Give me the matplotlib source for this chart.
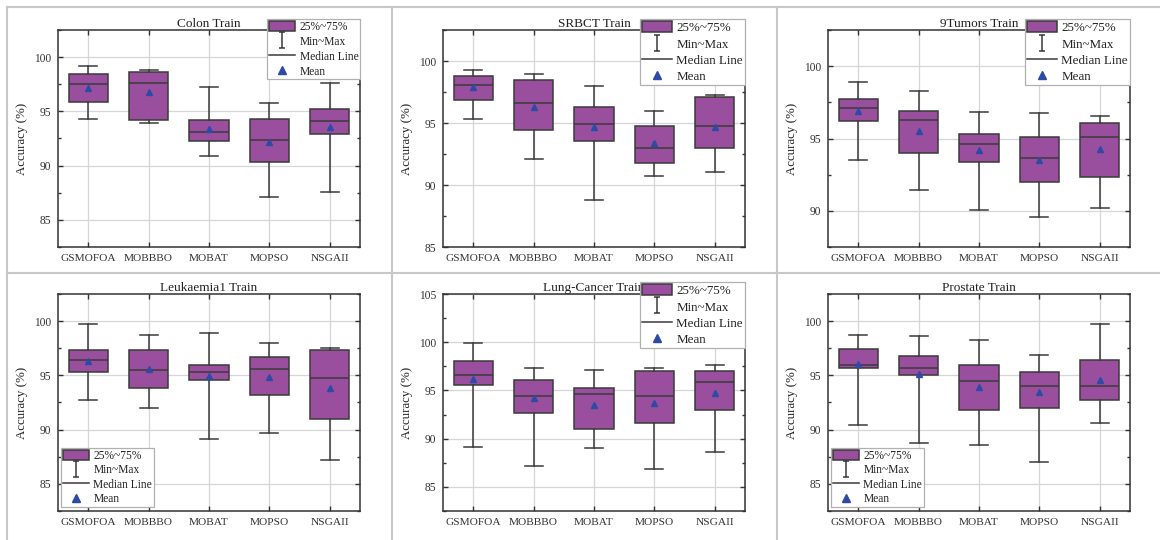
import matplotlib
matplotlib.use('Agg')
import matplotlib.pyplot as plt
from matplotlib.path import Path
from matplotlib.patches import Patch
from matplotlib.lines import Line2D
from matplotlib.ticker import MultipleLocator

plt.rcParams['font.family'] = ['Liberation Serif', 'DejaVu Serif']

algorithms = ['GSMOFOA', 'MOBBBO', 'MOBAT', 'MOPSO', 'NSGAII']

# each row: min, q1, median, q3, max, mean
colon = [
    [94.34, 95.82, 97.51, 98.46, 99.14, 97.20],
    [93.94, 94.25, 97.60, 98.65, 98.83, 96.77],
    [90.89, 92.25, 93.14, 94.18, 97.26, 93.35],
    [87.14, 90.37, 92.34, 94.28, 95.75, 92.22],
    [87.57, 92.92, 94.15, 95.20, 97.57, 93.60],
]
srbct = [
    [95.34, 96.84, 98.07, 98.79, 99.30, 97.94],
    [92.09, 94.42, 96.65, 98.47, 98.95, 96.33],
    [88.82, 93.57, 94.91, 96.33, 97.99, 94.64],
    [90.70, 91.80, 92.98, 94.75, 95.95, 93.35],
    [91.07, 92.95, 94.75, 97.08, 97.29, 94.69],
]
tumors9 = [
    [93.52, 96.23, 97.11, 97.73, 98.94, 96.88],
    [91.44, 94.00, 96.30, 96.92, 98.26, 95.49],
    [90.05, 93.36, 94.61, 95.28, 96.81, 94.19],
    [89.58, 91.97, 93.66, 95.07, 96.76, 93.52],
    [90.23, 92.31, 95.09, 96.06, 96.57, 94.26],
]
leukaemia1 = [
    [92.75, 95.34, 96.41, 97.31, 99.72, 96.34],
    [91.97, 93.81, 95.47, 97.38, 98.72, 95.59],
    [89.17, 94.59, 95.34, 95.97, 98.94, 94.94],
    [89.69, 93.16, 95.59, 96.66, 97.94, 94.88],
    [87.22, 91.00, 94.75, 97.34, 97.53, 93.81],
]
lung = [
    [89.14, 95.59, 96.59, 98.10, 99.90, 96.14],
    [87.14, 92.69, 94.45, 96.10, 97.28, 94.17],
    [89.00, 91.03, 94.59, 95.24, 97.10, 93.48],
    [86.90, 91.66, 94.41, 96.97, 97.31, 93.72],
    [88.66, 93.00, 95.83, 96.97, 97.69, 94.76],
]
prostate = [
    [90.46, 95.66, 95.94, 97.41, 98.75, 96.09],
    [88.73, 95.00, 95.69, 96.75, 98.59, 95.16],
    [88.58, 91.78, 94.50, 95.97, 98.28, 93.91],
    [87.00, 92.03, 94.00, 95.34, 96.88, 93.44],
    [90.65, 92.69, 94.00, 96.44, 99.72, 94.53],
]

titles = ['Colon Train', 'SRBCT Train', '9Tumors Train',
          'Leukaemia1 Train', 'Lung-Cancer Train', 'Prostate Train']
datasets = [colon, srbct, tumors9, leukaemia1, lung, prostate]
ylims = [(82.5, 102.5), (85, 102.5), (87.5, 102.5),
         (82.5, 102.5), (82.5, 105), (82.5, 102.5)]
legend_labels = ['25%~75%', 'Min~Max', 'Median Line', 'Mean']

purple = '#9a4f9e'
edge = '#3a3a3a'
blue = '#2c4aa6'

W, H = 1160, 540
fig = plt.figure(figsize=(W / 100, H / 100), dpi=100)

# light panel separators
sep = '#c8c8c8'
for x in [7, 392, 777]:
    fig.add_artist(Line2D([x / W, x / W], [0, 1 - 7 / H], color=sep, lw=1.5))
for y in [7, 273]:
    fig.add_artist(Line2D([7 / W, 1], [1 - y / H, 1 - y / H], color=sep, lw=1.5))

# I-shaped marker for the Min~Max legend entry
ibar = Path([(-0.35, -1), (0.35, -1), (0, -1), (0, 1), (-0.35, 1), (0.35, 1)],
            [Path.MOVETO, Path.LINETO, Path.MOVETO, Path.LINETO, Path.MOVETO, Path.LINETO])

lefts = [58, 443, 828]
tops = [30, 294]
ax_w, ax_h = 302, 217

for i, (rows, title, ylim) in enumerate(zip(datasets, titles, ylims)):
    r, c = divmod(i, 3)
    ax = fig.add_axes([lefts[c] / W, 1 - (tops[r] + ax_h) / H, ax_w / W, ax_h / H])
    stats = [dict(whislo=v[0], q1=v[1], med=v[2], q3=v[3], whishi=v[4], mean=v[5],
                  fliers=[]) for v in rows]
    ax.bxp(stats, positions=range(len(rows)), widths=0.65, capwidths=0.3,
           patch_artist=True, showmeans=True, showfliers=False, manage_ticks=False,
           boxprops=dict(facecolor=purple, edgecolor=edge, lw=1.1),
           whiskerprops=dict(color=edge, lw=1.1),
           capprops=dict(color=edge, lw=1.1),
           medianprops=dict(color=edge, lw=1.1),
           meanprops=dict(marker='^', markerfacecolor=blue, markeredgecolor=blue,
                          markersize=5))
    ax.set_xlim(-0.5, len(rows) - 0.5)
    ax.set_ylim(*ylim)
    ax.set_xticks(range(len(rows)))
    ax.set_xticklabels(algorithms, fontsize=8.2, color='#333333')
    ax.yaxis.set_major_locator(MultipleLocator(5))
    ax.yaxis.set_minor_locator(MultipleLocator(2.5))
    ax.tick_params(axis='both', which='both', direction='in', top=True, right=True,
                   color='#333333')
    ax.tick_params(axis='both', which='major', length=3.5, width=1)
    ax.tick_params(axis='y', which='minor', length=2, width=1)
    ax.tick_params(axis='y', labelsize=8.3, labelcolor='#333333', pad=5)
    ax.tick_params(axis='x', pad=5)
    ax.grid(True, color='#d6d6d6', lw=0.9)
    ax.set_axisbelow(True)
    for s in ax.spines.values():
        s.set_color('#333333')
        s.set_linewidth(1.1)
    ax.set_title(title, fontsize=9.5, pad=2, color='#222222')
    ax.set_ylabel('Accuracy (%)', fontsize=9.3, color='#222222', labelpad=4)

    handles = [
        Patch(facecolor=purple, edgecolor=edge, lw=1.1),
        Line2D([], [], ls='none', marker=ibar, ms=12, mec=edge, mfc='none', mew=1.1),
        Line2D([], [], color=edge, lw=1.1),
        Line2D([], [], ls='none', marker='^', color=blue, ms=6),
    ]
    if i in (3, 5):
        leg = ax.legend(handles, legend_labels, loc='lower left',
                        bbox_to_anchor=(0.01, 0.018), fontsize=8.3,
                        handlelength=2.3, handleheight=0.95, labelspacing=0.22,
                        handletextpad=0.35, borderpad=0.15, borderaxespad=0)
    else:
        fs = 8.3 if i == 0 else 9.4
        top = 1.055 if i == 4 else 1.05
        leg = ax.legend(handles, legend_labels, loc='upper right',
                        bbox_to_anchor=(1.0, top), fontsize=fs,
                        handlelength=2.3, handleheight=0.95, labelspacing=0.25,
                        handletextpad=0.35, borderpad=0.15, borderaxespad=0)
    leg.get_frame().set_boxstyle('square', pad=0)
    leg.get_frame().set_edgecolor('#b0b0b0')
    leg.get_frame().set_linewidth(0.9)
    leg.get_frame().set_alpha(1)
    for t in leg.get_texts():
        t.set_color('#222222')

fig.savefig('out.png', dpi=100)
